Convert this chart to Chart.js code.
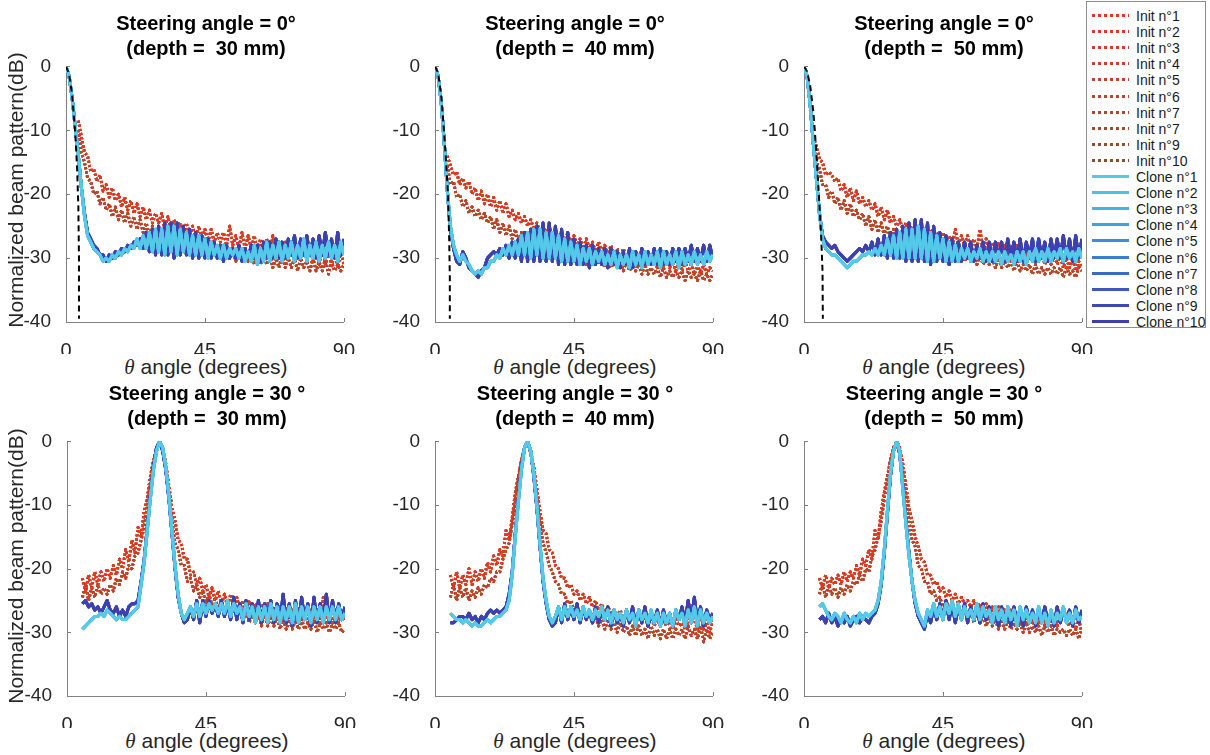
<!DOCTYPE html>
<html>
<head>
<meta charset="utf-8">
<script src="https://cdn.jsdelivr.net/npm/chart.js@4.4.0/dist/chart.umd.min.js"></script>
<style>
  body { margin: 0; background: #fff; width: 1210px; height: 755px; position: relative; overflow: hidden;
         font-family: "Liberation Sans", Arial, Helvetica, sans-serif; }
  .panel { position: absolute; }
  .title { position: absolute; text-align: center; font-weight: bold; font-size: 20px; line-height: 25px; color: #000; white-space: pre; }
  .xlab { position: absolute; text-align: center; font-size: 21px; line-height: 24px; color: #262626; white-space: pre; }
  .xlab i { font-family: "Liberation Serif", "DejaVu Serif", serif; }
  .ylab { position: absolute; text-align: center; font-size: 21px; line-height: 24px; color: #262626; white-space: nowrap; transform: rotate(-90deg); }
  #legend { position: absolute; left: 1086px; top: 1px; width: 118px; height: 325px; border: 1px solid #8c8c8c; background: #fff; }
  .lg { position: absolute; left: 4px; height: 16px; width: 114px; }
  .lg .s { position: absolute; left: 1px; top: 6px; width: 37px; height: 3px; }
  .lg .t { position: absolute; left: 45px; top: 0; font-size: 14px; line-height: 16px; color: #1a1a1a; white-space: nowrap; }
</style>
</head>
<body>
<div id="legend"></div>
<script>
// x grid (degrees)
const angles = [0,1,2,3,4,5,6,7,8,9,10,11,12,13,14,15,16,17,18,19,20,21,22,23,24,25,26,27,28,29,
  30,31,32,33,34,35,36,37,38,39,40,41,42,43,44,45,46,47,48,49,50,51,52,53,54,55,56,57,58,59,
  60,61,62,63,64,65,66,67,68,69,70,71,72,73,74,75,76,77,78,79,80,81,82,83,84,85,86,87,88,89,90];

const xTicks = [0, 45, 90];
const yTicks = [-40, -30, -20, -10, 0];

const initLabels = ['Init n°1','Init n°2','Init n°3','Init n°4','Init n°5','Init n°6','Init n°7','Init n°7','Init n°9','Init n°10'];
const cloneLabels = ['Clone n°1','Clone n°2','Clone n°3','Clone n°4','Clone n°5','Clone n°6','Clone n°7','Clone n°8','Clone n°9','Clone n°10'];
const initColors = ['#e8361d','#e23a1f','#da3d21','#d04123','#c44426','#b84628','#ab482a','#9f4a2b','#954b2c','#8b4b2d'];
const cloneColors = ['#55c9e8','#4cc0e8','#43b2e5','#3ea2e0','#3b8fd9','#3b7bd0','#3c68c7','#3d57be','#3e49b6','#3f3faf'];

const panelTitles = [
  ['Steering angle = 0°', '(depth =  30 mm)'],
  ['Steering angle = 0°', '(depth =  40 mm)'],
  ['Steering angle = 0°', '(depth =  50 mm)'],
  ['Steering angle = 30 °', '(depth =  30 mm)'],
  ['Steering angle = 30 °', '(depth =  40 mm)'],
  ['Steering angle = 30 °', '(depth =  50 mm)']
];

// ---- steering 0°, depth 30 mm
const tlCloneA = [0,-1.5,-5,-9.5,-14,-19,-23.5,-26.5,-27.5,-28.5,
  -29,-29.5,-30.5,-30,-30.5,-29.5,-30,-29,-29.5,-28.5,
  -29,-28,-28.5,-27,-28.5,-26.5,-28.5,-26,-29,-25.5,
  -29,-25.5,-29.5,-25,-29,-25,-29.5,-25.5,-29,-26,
  -29.5,-26.5,-29.5,-26.5,-29.5,-27,-30,-27.5,-29.5,-28,
  -30,-28,-30,-28.5,-29.5,-28.5,-30,-28.5,-30.5,-29,
  -30.5,-28,-31,-28.5,-30.5,-27.5,-30.5,-28,-30,-27.5,
  -30.5,-28,-30,-27.5,-30.5,-28,-30,-27,-30.5,-28,
  -30,-27.5,-30.5,-28,-30,-27.5,-30,-28,-30.5,-27.5,
  -29.5];
const tlCloneB = [0,-1.5,-5,-9.5,-14,-19,-23,-26,-27,-28,
  -28.5,-29.5,-29.5,-30.5,-29.5,-30,-29,-29.5,-28.5,-29,
  -28,-28.5,-27.5,-28,-27,-28.5,-26,-29,-25.5,-29.5,
  -25,-29.5,-24.5,-29.5,-24.5,-30,-24.5,-29.5,-25,-29.5,
  -25.5,-30,-26,-30,-26.5,-30,-27,-30,-27.5,-30,
  -28,-30.5,-28,-30,-28.5,-30,-28,-30.5,-28.5,-30,
  -28,-30,-28,-30.5,-27.5,-30,-27.5,-30,-27,-30,
  -27.5,-30,-27,-29.5,-26.5,-30,-27,-29.5,-26.5,-29.5,
  -27,-30,-26.5,-29.5,-26,-29.5,-27,-30,-26,-29.5,
  -27];
const tlInitA = [null,null,null,null,-8.5,-11,-13.5,-14,-16.5,-16,
  -18,-17,-19.5,-18.5,-20.5,-19,-21,-20,-22,-20.5,
  -22.5,-21,-23,-21.5,-23.5,-22,-24,-22.5,-24.5,-23,
  -24.5,-23,-25.5,-23.5,-25.5,-24,-26,-24.5,-26.5,-24.5,
  -26.5,-25,-27,-25,-27,-25.5,-27.5,-25.5,-27.5,-26,
  -27.5,-26,-28,-25,-28,-26.5,-28.5,-26,-28.5,-26.5,
  -28.5,-26.5,-29,-27,-29,-27,-29.5,-26.5,-29.5,-27.5,
  -29.5,-27.5,-30,-27.5,-30,-28,-30,-27,-30.5,-28,
  -30.5,-28.5,-31,-28,-31,-28.5,-31.5,-29,-31.5,-29,
  -31];
const tlInitB = [null,null,null,null,-10,-13.5,-15,-17.5,-18,-20,
  -19.5,-21.5,-20.5,-22.5,-21.5,-23.5,-22,-24,-22.5,-24.5,
  -23,-25,-23.5,-25.5,-24,-26,-24.5,-26.5,-25,-27,
  -25,-27.5,-25.5,-27.5,-26,-28,-26,-28.5,-26.5,-28.5,
  -26.5,-29,-27,-29,-27,-29.5,-27.5,-29.5,-27.5,-30,
  -28,-30,-28,-30,-28.5,-30.5,-28.5,-30.5,-29,-30.5,
  -29,-31,-29,-31,-29.5,-31,-29.5,-31.5,-30,-31.5,
  -29.5,-31.5,-30,-31.5,-30,-32,-30,-31.5,-30.5,-32,
  -30,-32,-30.5,-32,-30,-32.5,-30.5,-32,-31,-32,
  -31];
const tlRefX = [0,1,2,3,3.6,4,4.2,4.2];
const tlRefY = [0,-1.2,-4.5,-10.5,-16,-22,-30,-39.5];

// ---- steering 0°, depth 40 mm
const tmCloneA = [0,-1.5,-5.5,-12,-19.5,-25,-28,-29.5,-30.5,-29.5,
  -30.5,-31,-32,-32.5,-32,-32.5,-31.5,-31.5,-30.5,-30.5,
  -29.5,-30,-28.5,-29.5,-28,-29.5,-27.5,-29.5,-26.5,-29.5,
  -26,-30,-25.5,-29.5,-25.5,-30,-26,-30,-26,-30,
  -26.5,-30.5,-27,-30.5,-27.5,-30.5,-28,-31,-28.5,-30.5,
  -28.5,-31,-29,-30.5,-29,-31,-29.5,-31,-29,-31.5,
  -29.5,-31,-29.5,-31.5,-29,-31,-29.5,-31.5,-29,-31,
  -29.5,-31,-29,-31.5,-29,-31,-29.5,-31,-29,-31.5,
  -29,-31,-29.5,-31,-29,-31,-29.5,-31,-29,-30.5,
  -29.5];
const tmCloneB = [0,-1.5,-5.5,-12,-19.5,-25.5,-28.5,-30.5,-31,-29,
  -30,-31.5,-32,-32.5,-33,-32,-31.5,-30,-29.5,-29,
  -29.5,-28.5,-29.5,-28,-30,-27.5,-30,-27,-30.5,-26,
  -30.5,-25.5,-30.5,-25,-30.5,-24.5,-30.5,-24.5,-30.5,-25,
  -31,-25.5,-31,-26,-31,-27,-31,-27.5,-31,-28,
  -31.5,-28,-31,-28.5,-31,-28.5,-31.5,-28.5,-31,-29,
  -31.5,-29,-31,-28.5,-31.5,-29,-31,-28.5,-31,-29,
  -31,-28.5,-31,-28.5,-31,-29,-31,-28.5,-30.5,-28.5,
  -31,-28.5,-30.5,-28,-30.5,-28.5,-30.5,-28,-30.5,-28,
  -30];
const tmInitA = [null,null,null,null,-14,-15.5,-17,-16.5,-18.5,-17.5,
  -19,-18,-20,-19,-21,-19.5,-21.5,-20,-22,-20.5,
  -22.5,-21,-23,-21.5,-23.5,-22.5,-24,-23,-24.5,-23.5,
  -25,-24,-25.5,-24.5,-26,-25,-26.5,-25,-27,-25.5,
  -27,-26,-27.5,-26,-28,-26.5,-28,-27,-28.5,-27,
  -28.5,-27.5,-29,-27.5,-29,-28,-29.5,-28,-29.5,-28.5,
  -30,-28.5,-30,-29,-30.5,-29,-30.5,-29.5,-31,-29.5,
  -31,-29.5,-31.5,-30,-31.5,-30,-31.5,-30.5,-32,-30.5,
  -32,-30.5,-32,-31,-32.5,-31,-32.5,-31,-32.5,-31.5,
  -32];
const tmInitB = [null,null,null,null,-15.5,-18.5,-18,-20.5,-20,-22,
  -21,-23,-22,-23.5,-22.5,-24,-23,-24.5,-23.5,-25.5,
  -24,-26,-24.5,-26.5,-25,-27,-25.5,-27.5,-26,-28,
  -26,-28,-26.5,-28.5,-27,-29,-27.5,-29,-27.5,-29.5,
  -28,-30,-28.5,-30,-28.5,-30.5,-29,-30.5,-29,-31,
  -29.5,-31,-29.5,-31,-30,-31.5,-30,-31.5,-30.5,-31.5,
  -30.5,-32,-30.5,-32,-31,-32,-31,-32.5,-31,-32.5,
  -31.5,-32.5,-31.5,-33,-31.5,-33,-32,-33,-32,-33,
  -32,-33.5,-32,-33,-32.5,-33.5,-32,-33.5,-32.5,-33.5,
  -32.5];
const tmRefX = [0,1,2,2.9,3.6,4.2,4.6,4.8,4.8];
const tmRefY = [0,-1,-4.5,-10,-15,-20,-27,-33,-39.5];

// ---- steering 0°, depth 50 mm
const trCloneA = [0,-1.5,-6,-12,-17.5,-23,-27,-28.5,-29,-29.5,
  -29.5,-30,-30.5,-31,-31.5,-31,-30.5,-30.5,-30,-29.5,
  -29.5,-29,-29.5,-28.5,-29.5,-28,-29.5,-27,-29.5,-26.5,
  -30,-26,-30,-25.5,-30,-25.5,-30,-25,-30,-25.5,
  -30.5,-26,-30.5,-26.5,-30,-27,-30.5,-27.5,-30.5,-28,
  -30.5,-28.5,-30,-28.5,-30.5,-29,-30,-28.5,-30.5,-29,
  -30.5,-29,-30.5,-29,-31,-29,-30.5,-29.5,-31,-29,
  -30.5,-29,-31,-29,-30.5,-28.5,-30.5,-29,-30.5,-28.5,
  -30.5,-29,-30,-28.5,-30.5,-28.5,-30,-29,-30.5,-28.5,
  -30];
const trCloneB = [0,-1.5,-6,-12,-17.5,-23,-26.5,-27.5,-28,-28.5,
  -28,-29,-29.5,-30,-30.5,-30,-29.5,-29,-28.5,-29,
  -28,-29,-27.5,-29.5,-27,-29.5,-26.5,-30,-26,-30,
  -25.5,-30,-25,-30.5,-24.5,-30.5,-24,-30.5,-24,-30.5,
  -24.5,-31,-25,-30.5,-26,-30.5,-26.5,-31,-27,-30.5,
  -27.5,-30.5,-27.5,-30,-27.5,-30.5,-28,-30,-27.5,-30.5,
  -27.5,-30.5,-27.5,-30,-27.5,-30.5,-27,-30,-27.5,-30.5,
  -27,-30.5,-27.5,-30,-27,-30.5,-27,-30,-27.5,-30.5,
  -27,-30,-27,-30,-26.5,-30,-27,-30.5,-26.5,-30,
  -27];
const trInitA = [null,null,null,-11,-12.5,-14.5,-15,-17,-16.5,-17,
  -18,-17.5,-19.5,-18.5,-20.5,-19,-21,-19.5,-21.5,-20.5,
  -22,-21,-22.5,-21.5,-23.5,-22,-24,-22.5,-24.5,-23.5,
  -25,-24,-25.5,-24.5,-26,-25,-26,-25,-26.5,-25.5,
  -27,-25.5,-27,-26,-27.5,-26,-27.5,-26.5,-28,-25.5,
  -28,-26.5,-28,-26.5,-28.5,-27,-28.5,-25.5,-29,-27,
  -29,-27.5,-29,-27.5,-29.5,-28,-29.5,-28,-30,-28,
  -30,-28.5,-30,-28.5,-30.5,-29,-30.5,-29,-31,-29,
  -31,-29.5,-31,-29.5,-31.5,-30,-31.5,-30,-32,-30.5,
  -31.5];
const trInitB = [null,null,null,-12,-15,-16,-18.5,-18.5,-20.5,-19.5,
  -21.5,-20.5,-22.5,-21,-23,-21.5,-23.5,-22.5,-24,-23,
  -25,-23.5,-25.5,-24,-26,-24.5,-26.5,-25,-27,-25.5,
  -27.5,-26,-28,-26.5,-28.5,-27,-28.5,-27.5,-29,-27.5,
  -29,-28,-29.5,-28,-29.5,-28.5,-30,-28.5,-30,-29,
  -30.5,-29,-30.5,-29.5,-30.5,-29.5,-31,-29.5,-31,-30,
  -31,-30,-31.5,-30,-31.5,-30.5,-31.5,-30.5,-32,-30.5,
  -32,-31,-32,-31,-32.5,-31,-32.5,-31.5,-32.5,-31.5,
  -32.5,-31.5,-32.5,-31.5,-33,-31.5,-32.5,-32,-33,-31.5,
  -32];
const trRefX = [0,1,2,3,3.5,4.2,4.8,5.5,6,6.1];
const trRefY = [0,-0.8,-3,-7,-10,-15,-20,-26,-32,-39.5];

// ---- steering 30°, depth 30 mm (angles 5..90)
const blCloneA = [-29.5,-29,-28.5,-28,-27.5,-27.5,-27,-27.5,-26.5,-27,
  -27.5,-28,-27.5,-28,-28,-27.5,-27,-26.5,-26,-22.5,
  -19,-14,-9,-4.5,-1.5,0,-1,-4,-8.5,-14,
  -19.5,-24,-27,-28,-27,-26,-27.5,-25.5,-27.5,-25.5,
  -27,-25.5,-26.5,-25.5,-27,-25.5,-27,-25,-27.5,-25.5,
  -27,-26,-28,-25.5,-27.5,-26,-28.5,-26,-28,-26,
  -28.5,-25.5,-28,-26,-28.5,-26,-28,-26,-28.5,-25.5,
  -28.5,-26,-28,-26,-28.5,-26,-28,-26,-28.5,-26,
  -28,-26,-28,-26,-28,-27];
const blCloneB = [-25.5,-25,-26,-25.5,-26.5,-26,-27,-26,-25,-26.5,
  -27,-26,-27.5,-26.5,-27.5,-26,-25.5,-25.5,-25,-22,
  -18.5,-13.5,-8.5,-4,-1,0,-1.5,-4.5,-9,-14.5,
  -20,-24.5,-27,-28.5,-28,-26,-28,-25,-28.5,-25,
  -27.5,-25,-27,-25.5,-27.5,-25,-27.5,-25.5,-28,-24.5,
  -28,-25.5,-28.5,-25,-28,-25.5,-28.5,-25,-28.5,-25.5,
  -28,-25,-28.5,-25.5,-28.5,-24,-28.5,-25.5,-29,-25,
  -28.5,-24.5,-28,-25.5,-29,-24.5,-28.5,-25.5,-28.5,-24,
  -28.5,-25,-28.5,-25.5,-28,-26];
const blInitA = [-21.5,-23.5,-21,-23,-20.5,-22.5,-20.5,-22,-20,-21.5,
  -19.5,-21,-18.5,-20,-17,-19,-15.5,-17.5,-13.5,-15,
  -11,-9,-5.5,-3,-1,0,-1,-3.5,-7,-10.5,
  -12.5,-15.5,-16,-18.5,-18.5,-21,-20.5,-22.5,-21.5,-23.5,
  -22.5,-24.5,-23,-25,-23.5,-25.5,-24,-26,-24,-26,
  -24.5,-26.5,-25,-26.5,-25,-27,-25.5,-27,-25.5,-27.5,
  -25.5,-27.5,-26,-27.5,-26,-28,-26,-28,-26.5,-28,
  -26,-28,-26.5,-28.5,-26.5,-28,-26.5,-28.5,-24.5,-28,
  -26.5,-28.5,-26.5,-28.5,-27,-28];
const blInitB = [-24.5,-22.5,-25,-23,-24.5,-22.5,-24,-23,-24,-22.5,
  -23.5,-21.5,-22.5,-20.5,-21.5,-19.5,-20,-18,-17.5,-15.5,
  -13.5,-10,-6.5,-3.5,-1,0,-1.5,-4.5,-8.5,-12.5,
  -16,-17,-19.5,-19.5,-22,-21.5,-23.5,-22.5,-24.5,-23.5,
  -25.5,-24,-26,-24.5,-26.5,-25,-27,-25.5,-27.5,-26,
  -27.5,-26,-28,-26.5,-28.5,-27,-28.5,-27,-29,-27,
  -29,-27.5,-29,-27.5,-29.5,-28,-29.5,-28,-29.5,-28,
  -29.5,-28,-29.5,-28.5,-29.5,-28,-30,-28.5,-29.5,-28.5,
  -30,-28.5,-29.5,-28.5,-30,-29.5];

// ---- steering 30°, depth 40 mm (angles 5..90)
const bmCloneA = [-27,-27.5,-28,-28,-28.5,-28,-28.5,-29,-28.5,-29,
  -29,-28.5,-28,-28.5,-28,-27.5,-27.5,-27,-26.5,-25,
  -21,-15,-9.5,-4.5,-1,0,-1.5,-5,-10,-16,
  -21.5,-25,-27.5,-28.5,-27.5,-26,-28,-26,-27.5,-26,
  -27.5,-26.5,-28,-26,-27.5,-26.5,-28,-26.5,-27.5,-26,
  -28,-26.5,-28.5,-26.5,-28,-27,-28.5,-26.5,-28,-27,
  -29,-26.5,-28,-27,-28.5,-26.5,-28.5,-27,-29,-27,
  -28.5,-27,-29,-26.5,-28,-27,-29,-26.5,-28.5,-26,
  -29,-26.5,-28.5,-27,-28.5,-27.5];
const bmCloneB = [-28.5,-28.5,-28,-27.5,-27.5,-28,-27,-28,-27.5,-28.5,
  -27.5,-28,-27,-26.5,-27,-26.5,-27,-26.5,-26,-24,
  -20.5,-14.5,-9,-4,-1,0,-1.5,-5.5,-10.5,-16.5,
  -22,-25.5,-28,-29,-28.5,-26,-28.5,-25.5,-28,-26,
  -28,-25.5,-28.5,-26,-28,-26.5,-28.5,-26,-28.5,-26.5,
  -28,-26,-29,-26.5,-28.5,-27,-29,-26.5,-28.5,-26,
  -29,-26.5,-28.5,-26,-29,-27,-28.5,-26.5,-29,-26.5,
  -28.5,-27,-29,-26.5,-28,-26,-28.5,-25,-28.5,-24.5,
  -28.5,-26,-29,-26.5,-28,-27];
const bmInitA = [-21,-23,-20.5,-23,-21,-22.5,-20,-22.5,-20.5,-22,
  -20,-21.5,-19,-20.5,-18,-19.5,-17,-18,-14,-15.5,
  -12,-8,-5.5,-3,-1,0,-1.5,-4,-7.5,-11,
  -14,-14.5,-17,-17.5,-19.5,-20,-21.5,-21.5,-23,-22.5,
  -24,-23.5,-25,-24,-25.5,-24.5,-26,-25,-26.5,-25.5,
  -27,-26,-27,-26.5,-27.5,-26.5,-28,-27,-28,-27.5,
  -28.5,-27,-28.5,-27.5,-29,-27.5,-29,-28,-29,-28,
  -29,-28,-29.5,-28,-29,-28.5,-29.5,-28,-25.5,-28,
  -29.5,-26.5,-29.5,-28.5,-30,-28];
const bmInitB = [-24.5,-22.5,-25,-23,-24.5,-23,-25,-23.5,-24.5,-23,
  -24,-22.5,-23,-21.5,-22,-20.5,-20.5,-18.5,-17,-16,
  -13,-9.5,-6,-3,-1,0,-2,-5,-9,-13,
  -16,-17.5,-19.5,-20.5,-22,-22.5,-24,-24,-25.5,-25,
  -26.5,-26,-27,-26.5,-27.5,-27,-28.5,-27.5,-29,-28,
  -29.5,-28,-29.5,-28.5,-30,-28.5,-30,-29,-30.5,-29,
  -30.5,-29,-30.5,-29.5,-31,-29,-30.5,-29.5,-31,-29.5,
  -31,-29.5,-31,-29.5,-30.5,-29.5,-31,-29,-30.5,-29.5,
  -31,-29,-31.5,-29.5,-31,-30];

// ---- steering 30°, depth 50 mm (angles 5..90)
const brCloneA = [-26,-25.5,-26.5,-27.5,-28,-27,-27.5,-28.5,-27,-28,
  -28.5,-27.5,-28.5,-27,-28,-27,-27.5,-27,-26.5,-25,
  -22,-17,-11,-5,-1.5,0,-1.5,-7.5,-13,-18,
  -22,-25,-27,-28,-29,-26.5,-27.5,-25.5,-27.5,-26,
  -28,-25.5,-27,-25,-27.5,-25.5,-28,-26,-27.5,-26.5,
  -28,-25.5,-28,-26,-27.5,-26.5,-28.5,-26,-28,-26.5,
  -28.5,-26,-28,-26.5,-29,-26,-28,-26.5,-28.5,-27,
  -28.5,-26,-28.5,-27,-29,-26.5,-28.5,-27,-28,-26,
  -28.5,-27,-28.5,-26.5,-28,-27.5];
const brCloneB = [-28,-27.5,-28.5,-27,-28.5,-27.5,-29,-28,-28.5,-27.5,
  -29,-28,-27.5,-28.5,-27.5,-28,-28.5,-27.5,-27,-25.5,
  -22.5,-17.5,-11.5,-5.5,-1.5,0,-2,-7,-12.5,-17.5,
  -22,-25.5,-27.5,-28.5,-29.5,-27,-28.5,-26,-28,-25.5,
  -28,-25,-28,-25.5,-28.5,-26,-28,-25.5,-28.5,-26,
  -28,-26.5,-28.5,-25.5,-28,-26,-28.5,-26.5,-29,-26,
  -28,-26.5,-29,-26,-28.5,-27,-29,-26,-28.5,-26.5,
  -29,-26.5,-28.5,-26,-28.5,-27,-29,-26,-28.5,-26.5,
  -28,-26.5,-29,-26,-28.5,-26.5];
const brInitA = [-21.5,-23,-21,-23,-21.5,-22.5,-21,-22.5,-20.5,-22,
  -20.5,-21.5,-19.5,-21,-18.5,-19.5,-17,-18.5,-14,-15.5,
  -11,-8,-5.5,-3,-1,0,-1,-3.5,-7,-10.5,
  -12.5,-15,-16.5,-18.5,-19,-21,-21,-22.5,-22,-23.5,
  -23,-24.5,-23.5,-25,-24,-25.5,-24.5,-25.5,-25,-26,
  -25,-26.5,-25.5,-27,-25.5,-27,-26,-27.5,-26,-27.5,
  -26.5,-28,-26.5,-28,-27,-28.5,-27,-28.5,-27,-28.5,
  -27.5,-28.5,-27.5,-29,-27.5,-29,-27.5,-29,-27.5,-26,
  -28,-29,-28,-29.5,-28,-30];
const brInitB = [-24,-22.5,-24.5,-22.5,-24,-23,-24.5,-23,-24,-22.5,
  -23.5,-22,-22.5,-21,-22,-20,-20.5,-18,-17,-15,
  -12.5,-9,-6,-3,-1,0,-1.5,-4.5,-8.5,-12.5,
  -15.5,-16.5,-19.5,-20,-22,-22,-24,-23.5,-25,-24.5,
  -26,-25,-26.5,-25.5,-27,-26,-27.5,-26.5,-28,-26.5,
  -28.5,-27,-28.5,-27.5,-29,-27.5,-29,-28,-29.5,-28,
  -29.5,-28,-29.5,-28.5,-29.5,-28.5,-30,-28.5,-30,-29,
  -30,-29,-30.5,-29,-30,-29,-30.5,-29.5,-30,-29.5,
  -30.5,-29.5,-30.5,-29.5,-31,-29.5];

const FONT = "'Liberation Sans', Arial, Helvetica, sans-serif";
const AXIS = '#808080';
const bottomAngles = angles.slice(5);

const panels = [
  { left: 66,  top: 62,  h: 260, row: 0, xs: angles, cA: tlCloneA, cB: tlCloneB, iA: tlInitA, iB: tlInitB, rx: tlRefX, ry: tlRefY },
  { left: 435, top: 62,  h: 260, row: 0, xs: angles, cA: tmCloneA, cB: tmCloneB, iA: tmInitA, iB: tmInitB, rx: tmRefX, ry: tmRefY },
  { left: 804, top: 62,  h: 260, row: 0, xs: angles, cA: trCloneA, cB: trCloneB, iA: trInitA, iB: trInitB, rx: trRefX, ry: trRefY },
  { left: 67,  top: 437, h: 259, row: 1, xs: bottomAngles, cA: blCloneA, cB: blCloneB, iA: blInitA, iB: blInitB },
  { left: 435, top: 437, h: 259, row: 1, xs: bottomAngles, cA: bmCloneA, cB: bmCloneB, iA: bmInitA, iB: bmInitB },
  { left: 804, top: 437, h: 259, row: 1, xs: bottomAngles, cA: brCloneA, cB: brCloneB, iA: brInitA, iB: brInitB }
];
const PW = 280, PADL = 55, PADT = 14, PADR = 18, PADB = 32;
const titleTop = [11, 381];
const xlabTop = [355, 729];
const ylabMid = [190, 566];

function pts(xs, ys) {
  return ys.map((y, i) => ({ x: xs[i], y: y }));
}

// small inward tick marks like the original axes
const innerTicks = {
  id: 'innerTicks',
  afterDatasetsDraw(chart) {
    const { ctx, chartArea: a, scales: { x, y } } = chart;
    ctx.save();
    ctx.strokeStyle = AXIS;
    ctx.lineWidth = 1;
    ctx.beginPath();
    x.ticks.forEach(t => {
      const px = Math.round(x.getPixelForValue(t.value)) + 0.5;
      ctx.moveTo(px, a.bottom); ctx.lineTo(px, a.bottom - 4);
    });
    y.ticks.forEach(t => {
      const py = Math.round(y.getPixelForValue(t.value)) + 0.5;
      ctx.moveTo(a.left, py); ctx.lineTo(a.left + 4, py);
    });
    ctx.stroke();
    ctx.restore();
  }
};

function buildDatasets(p) {
  const ds = [];
  if (p.rx) {
    ds.push({ label: 'reference', data: pts(p.rx, p.ry), borderColor: '#000', borderWidth: 2, borderDash: [6, 4] });
  }
  // first dataset ends up on top
  [0, 1, 2, 3, 4].forEach(i => ds.push({ label: cloneLabels[i], data: pts(p.xs, p.cA), borderColor: cloneColors[i], borderWidth: 3 }));
  [9, 8, 7, 6, 5].forEach(i => ds.push({ label: cloneLabels[i], data: pts(p.xs, p.cB), borderColor: cloneColors[i], borderWidth: 3 }));
  [0, 2, 4, 6, 8].forEach(i => ds.push({ label: initLabels[i], data: pts(p.xs, p.iA), borderColor: initColors[i], borderWidth: 2.8, borderDash: [2, 2.2] }));
  [5, 1, 3, 7, 9].forEach(i => ds.push({ label: initLabels[i], data: pts(p.xs, p.iB), borderColor: initColors[i], borderWidth: 2.8, borderDash: [2, 2.2] }));
  return ds;
}

function addDiv(cls, style, html) {
  const d = document.createElement('div');
  d.className = cls;
  Object.assign(d.style, style);
  d.innerHTML = html;
  document.body.appendChild(d);
  return d;
}

panels.forEach((p, k) => {
  const W = PW + PADL + PADR, H = p.h + PADT + PADB;
  const wrap = addDiv('panel', { left: (p.left - PADL) + 'px', top: (p.top - PADT) + 'px', width: W + 'px', height: H + 'px' }, '');
  const cv = document.createElement('canvas');
  cv.width = W; cv.height = H;
  wrap.appendChild(cv);

  const cx = p.left + PW / 2;
  addDiv('title', { left: (cx - 170) + 'px', top: titleTop[p.row] + 'px', width: '340px' },
    panelTitles[k][0] + '\n' + panelTitles[k][1]);
  addDiv('xlab', { left: (cx - 150) + 'px', top: xlabTop[p.row] + 'px', width: '300px' },
    '<i>θ</i> angle (degrees)');
  if (k % 3 === 0) {
    addDiv('ylab', { left: (16 - 200) + 'px', top: (ylabMid[p.row] - 12) + 'px', width: '400px', height: '24px' },
      'Normalized beam pattern(dB)');
  }

  new Chart(cv.getContext('2d'), {
    type: 'line',
    data: { datasets: buildDatasets(p) },
    options: {
      responsive: false,
      animation: false,
      events: [],
      layout: { padding: { top: PADT, right: PADR, left: 0, bottom: 0 } },
      plugins: { legend: { display: false }, tooltip: { enabled: false } },
      elements: { point: { radius: 0 }, line: { tension: 0, borderJoinStyle: 'round' } },
      scales: {
        x: {
          type: 'linear', min: xTicks[0], max: xTicks[xTicks.length - 1],
          afterBuildTicks: s => { s.ticks = xTicks.map(v => ({ value: v })); },
          ticks: { color: '#262626', font: { family: FONT, size: 20 }, padding: 9, maxRotation: 0 },
          grid: { display: false },
          border: { display: true, color: AXIS, width: 1 },
          afterFit: s => { s.height = PADB; }
        },
        y: {
          type: 'linear', min: yTicks[0], max: yTicks[yTicks.length - 1],
          afterBuildTicks: s => { s.ticks = yTicks.map(v => ({ value: v })); },
          ticks: { color: '#262626', font: { family: FONT, size: 19 }, padding: 7 },
          grid: { display: false },
          border: { display: true, color: AXIS, width: 1 },
          afterFit: s => { s.width = PADL; }
        }
      }
    },
    plugins: [innerTicks]
  });
});

// legend box
const legend = document.getElementById('legend');
const entries = initLabels.map((t, i) => ({ t: t, c: initColors[i], dotted: true }))
  .concat(cloneLabels.map((t, i) => ({ t: t, c: cloneColors[i], dotted: false })));
entries.forEach((e, i) => {
  const row = document.createElement('div');
  row.className = 'lg';
  row.style.top = (6 + i * 16.1) + 'px';
  const bg = e.dotted
    ? 'repeating-linear-gradient(90deg,' + e.c + ' 0 3.5px, transparent 3.5px 6px)'
    : e.c;
  row.innerHTML = '<span class="s" style="background:' + bg + '"></span><span class="t">' + e.t + '</span>';
  legend.appendChild(row);
});
</script>
</body>
</html>
